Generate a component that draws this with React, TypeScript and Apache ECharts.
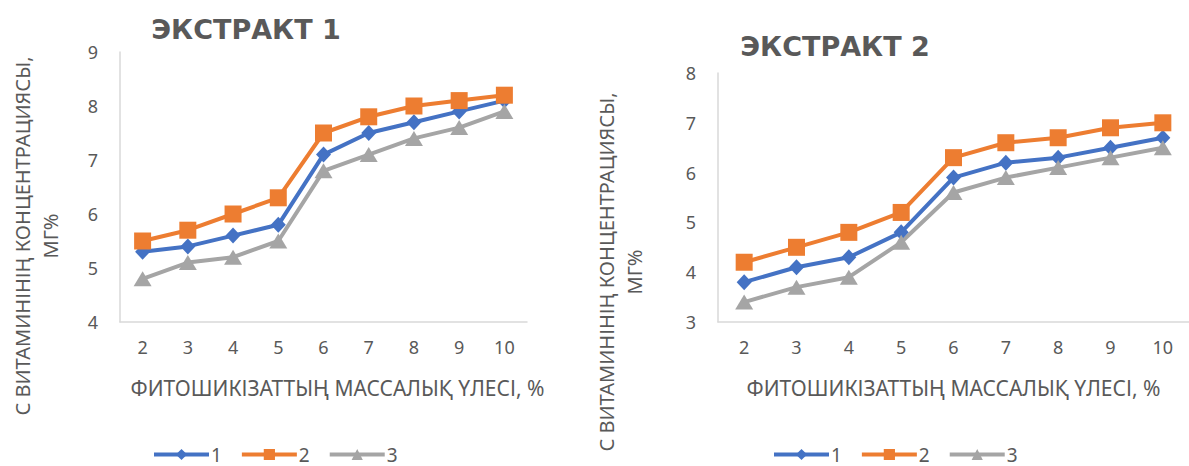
import React, { useEffect, useRef } from "react";
import * as echarts from "echarts";

const categories = ["2", "3", "4", "5", "6", "7", "8", "9", "10"];
const seriesNames = ["1", "2", "3"];

const ext1S1 = [5.3, 5.4, 5.6, 5.8, 7.1, 7.5, 7.7, 7.9, 8.1];
const ext1S2 = [5.5, 5.7, 6.0, 6.3, 7.5, 7.8, 8.0, 8.1, 8.2];
const ext1S3 = [4.8, 5.1, 5.2, 5.5, 6.8, 7.1, 7.4, 7.6, 7.9];

const ext2S1 = [3.8, 4.1, 4.3, 4.8, 5.9, 6.2, 6.3, 6.5, 6.7];
const ext2S2 = [4.2, 4.5, 4.8, 5.2, 6.3, 6.6, 6.7, 6.9, 7.0];
const ext2S3 = [3.4, 3.7, 3.9, 4.6, 5.6, 5.9, 6.1, 6.3, 6.5];

const titles = ["ЭКСТРАКТ 1", "ЭКСТРАКТ 2"];
const xName = "ФИТОШИКІЗАТТЫҢ МАССАЛЫҚ ҮЛЕСІ, %";
const yName = "С ВИТАМИНІНІҢ КОНЦЕНТРАЦИЯСЫ,\nМГ%";

const FONT = "Noto Sans";
const TXT = "#595959";
const AXIS = "#d9d9d9";
const COLORS = ["#4472C4", "#ED7D31", "#A5A5A5"];
const SYMBOLS = ["diamond", "rect", "triangle"];
const SIZES: any[] = [[15, 16], 17, [18, 15]];

export default function App() {
  const ref = useRef<HTMLDivElement>(null);
  useEffect(() => {
    if (!ref.current) return;
    const chart = echarts.init(ref.current, null, { renderer: "svg" });
    const grids = [
      { left: 120, top: 52, width: 407, height: 270 },
      { left: 718, top: 73, width: 476, height: 249 },
    ];
    const data = [
      [ext1S1, ext1S2, ext1S3],
      [ext2S1, ext2S2, ext2S3],
    ];
    const yRanges = [
      [4, 9],
      [3, 8],
    ];
    const series: any[] = [];
    data.forEach((set, gi) => {
      set.forEach((vals, si) => {
        series.push({
          type: "line",
          name: seriesNames[si],
          xAxisIndex: gi,
          yAxisIndex: gi,
          data: vals,
          symbol: SYMBOLS[si],
          symbolSize: SIZES[si],
          showSymbol: true,
          lineStyle: { width: 4, color: COLORS[si] },
          itemStyle: { color: COLORS[si] },
          emphasis: { disabled: true },
        });
      });
    });
    const legendBase = {
      top: 445,
      padding: 0,
      itemWidth: 55,
      itemHeight: 14,
      itemGap: 18,
      data: seriesNames,
      lineStyle: { width: 4 },
      textStyle: { color: TXT, fontSize: 19, lineHeight: 19, fontFamily: FONT, padding: [0, 0, 0, -3] },
      selectedMode: false,
    };
    const titleStyle = { fontFamily: "DejaVu Sans", fontWeight: "bold", fontSize: 27, color: TXT };
    const option: any = {
      animation: false,
      color: COLORS,
      textStyle: { fontFamily: FONT },
      title: [
        { text: titles[0], left: 246, top: 16, textAlign: "center", padding: 0, textStyle: titleStyle },
        { text: titles[1], left: 835, top: 33, textAlign: "center", padding: 0, textStyle: titleStyle },
      ],
      grid: grids,
      xAxis: grids.map((g, i) => ({
        type: "category",
        gridIndex: i,
        data: categories,
        boundaryGap: true,
        axisTick: { show: false },
        axisLine: { lineStyle: { color: AXIS, width: 1.5 } },
        axisLabel: { color: TXT, fontSize: 18, fontFamily: FONT, margin: 16 },
        name: xName,
        nameLocation: "middle",
        nameGap: 55,
        nameTextStyle: {
          color: TXT,
          fontSize: 21,
          fontFamily: FONT,
          padding: i === 0 ? [0, 0, 0, 28] : [0, 0, 0, 0],
        },
      })),
      yAxis: grids.map((g, i) => ({
        type: "value",
        gridIndex: i,
        min: yRanges[i][0],
        max: yRanges[i][1],
        interval: 1,
        splitLine: { show: false },
        axisTick: { show: false },
        axisLine: { show: true, lineStyle: { color: AXIS, width: 1.5 } },
        axisLabel: { color: TXT, fontSize: 18, fontFamily: FONT, margin: 22 },
      })),
      legend: [
        { ...legendBase, left: 152 },
        { ...legendBase, left: 772 },
      ],
      graphic: [
        {
          type: "text",
          x: 36,
          y: 236,
          rotation: Math.PI / 2,
          style: {
            text: yName,
            align: "center",
            verticalAlign: "middle",
            font: `20px "${FONT}"`,
            lineHeight: 28,
            fill: TXT,
          },
        },
        {
          type: "text",
          x: 620,
          y: 272,
          rotation: Math.PI / 2,
          style: {
            text: yName,
            align: "center",
            verticalAlign: "middle",
            font: `20px "${FONT}"`,
            lineHeight: 28,
            fill: TXT,
          },
        },
      ],
      series,
    };
    chart.setOption(option);
    return () => chart.dispose();
  }, []);
  return (
    <div
      ref={ref}
      style={{ position: "fixed", left: 0, top: 0, width: 1189, height: 466, background: "#fff" }}
    />
  );
}
